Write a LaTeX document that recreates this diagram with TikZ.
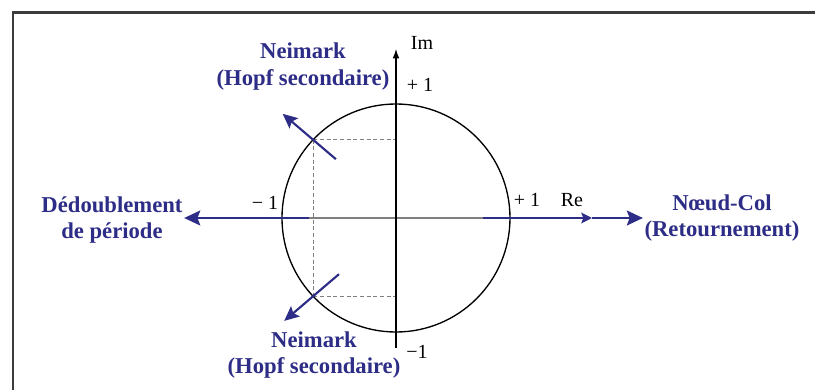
\documentclass[tikz,border=0pt]{standalone}
\usepackage{fontspec}
\setmainfont{Liberation Serif}
\usetikzlibrary{arrows.meta,calc}
\definecolor{bnavy}{RGB}{45,45,135}
\definecolor{fgray}{RGB}{60,60,60}

\begin{document}
\begin{tikzpicture}[
  x=0.75pt,y=0.75pt,
  lab/.style={font=\fontsize{17pt}{20pt}\selectfont\bfseries,text=bnavy,align=center,inner sep=1pt},
  val/.style={font=\fontsize{15pt}{17pt}\selectfont,inner sep=0pt},
  bif/.style={-{Stealth[length=12pt,width=11pt,inset=2pt]},line width=2.2pt,bnavy},
  bifmid/.style={-{Stealth[length=8pt,width=8pt,inset=1.5pt]},line width=2.2pt,bnavy},
  nei/.style={-{Stealth[length=11pt,width=10pt,inset=2pt]},line width=1.6pt,bnavy},
  axe/.style={-{Latex[length=7pt,width=5pt]},line width=0.8pt},
  proj/.style={gray,line width=0.7pt,dash pattern=on 3pt off 2pt},
  ]
  \useasboundingbox (-396,-172) rectangle (419,218);
  % cadre
  \draw[line width=1.6pt,fgray] (-383,-172) -- (-383,205.5) -- (419,205.5);

  % cercle unite et points
  \coordinate (o) at (0,0);
  \coordinate (zt) at (136.5:114);
  \coordinate (zb) at (-136.5:114);
  \coordinate (cm) at (-87,0);
  \coordinate (cp) at (87,0);
  \coordinate (remid) at (196,0);
  \coordinate (imtop) at (0,169);
  \coordinate (imbot) at (0,-130);

  % labels
  \node[lab] (nt) at (-93,151.5) {Neimark\\(Hopf secondaire)};
  \node[lab] (nb) at (-82,-137) {Neimark\\(Hopf secondaire)};
  \node[lab] (dd) at (-284,-2) {Dédoublement\\de période};
  \node[lab] (nc) at (326,0) {Nœud-Col\\(Retournement)};
  \node[val] (im)  at (26,175) {Im};
  \node[val] (imp) at (24,133) {+ 1};
  \node[val] (imm) at (21,-134) {−1};
  \node[val] (rem) at (-131,15) {− 1};
  \node[val] (rep) at (131,18) {+ 1};
  \node[val] (re)  at (176,18) {Re};

  \draw[proj] (zt) -- (zt -| o);
  \draw[proj] (zb) -- (zb -| o);
  \draw[proj] (zt) -- (zb);
  \draw[line width=1pt,gray] (cm) -- (cp);
  \draw[line width=1pt] (o) circle[radius=85.5pt];
  \draw[axe] (imbot) -- (imtop);

  % bifurcations
  \draw[bif] (cm) -- (cm -| dd.east);
  \draw[bifmid] (cp) -- (remid);
  \draw[bif] (remid) -- (nc.west);
  \draw[nei] ($(zt)+(-41:30)$) -- ($(zt)+(140:40)$);
  \draw[nei] ($(zb)+(41:34)$) -- ($(zb)+(220:38)$);
\end{tikzpicture}
\end{document}
